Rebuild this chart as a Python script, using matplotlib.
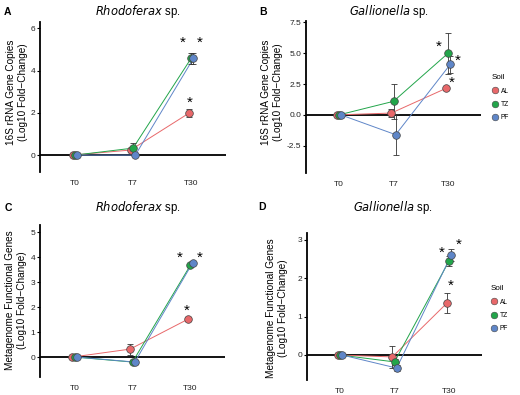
import matplotlib
matplotlib.use("Agg")
import matplotlib.pyplot as plt
from matplotlib.lines import Line2D

plt.rcParams["font.family"] = ["Liberation Sans", "DejaVu Sans"]

times = ["T0", "T7", "T30"]
soils = ["AL", "TZ", "PF"]
colors = {"AL": "#E8686A", "TZ": "#22A54A", "PF": "#5F86C8"}
dodge = {"AL": -0.04, "TZ": 0.0, "PF": 0.04}

# panel A: 16S, Rhodoferax
a_al = [0, 0.24, 1.98]
a_tz = [0, 0.33, 4.58]
a_pf = [0, 0.0, 4.58]
a_al_err = [0.03, 0.1, 0.2]
a_tz_err = [0.03, 0.24, 0.25]
a_pf_err = [0.03, 0.03, 0.25]

# panel B: 16S, Gallionella
b_al = [0, 0.15, 2.15]
b_tz = [0, 1.1, 5.0]
b_pf = [0, -1.6, 4.1]
b_al_err = [0.05, 0.35, 0.1]
b_tz_err = [0.05, 1.4, 1.65]
b_pf_err = [0.05, 1.65, 0.7]

# panel C: metagenome, Rhodoferax
c_al = [0, 0.32, 1.52]
c_tz = [0, -0.2, 3.68]
c_pf = [0, -0.2, 3.78]
c_al_err = [0.02, 0.22, 0.08]
c_tz_err = [0.02, 0.08, 0.05]
c_pf_err = [0.02, 0.08, 0.05]

# panel D: metagenome, Gallionella
d_al = [0, -0.05, 1.35]
d_tz = [0, -0.18, 2.45]
d_pf = [0, -0.34, 2.6]
d_al_err = [0.02, 0.28, 0.26]
d_tz_err = [0.02, 0.08, 0.13]
d_pf_err = [0.02, 0.08, 0.15]

# significance stars (x position, y value)
a_stars = [(1.85, 5.3), (2.15, 5.3), (1.97, 2.5)]
b_stars = [(1.83, 5.5), (2.17, 4.4), (2.06, 2.6)]
c_stars = [(1.81, 4.0), (2.16, 4.0), (1.93, 1.86)]
d_stars = [(1.87, 2.66), (2.18, 2.87), (2.02, 1.8)]

W, H = 520, 395
fig = plt.figure(figsize=(5.2, 3.95), dpi=100)


def px_axes(left, right, top, bottom):
    return fig.add_axes([left / W, 1 - bottom / H, (right - left) / W, (bottom - top) / H])


def draw_panel(ax, vals, errs, stars, ylim, yticks, yticklabels):
    for s in soils:
        x = [i + dodge[s] for i in range(len(times))]
        ax.plot(x, vals[s], color=colors[s], lw=0.7, zorder=2)
        ax.errorbar(x, vals[s], yerr=errs[s], fmt="none", ecolor="#333333",
                    elinewidth=0.6, capsize=2, capthick=0.6, zorder=3)
    for s in soils:
        x = [i + dodge[s] for i in range(len(times))]
        ax.plot(x, vals[s], "o", ms=5.5, mfc=colors[s], mec="#444444",
                mew=0.5, ls="none", zorder=4)
    ax.axhline(0, color="black", lw=1.3, zorder=1)
    for sx, sy in stars:
        ax.text(sx, sy, "*", ha="center", va="center", fontsize=11, color="black")
    ax.set_xlim(-0.6, 2.6)
    ax.set_ylim(*ylim)
    ax.set_xticks(range(len(times)))
    ax.set_xticklabels(times, fontsize=6, color="#222222")
    ax.set_yticks(yticks)
    ax.set_yticklabels(yticklabels, fontsize=6, color="#222222")
    ax.tick_params(axis="x", length=0, pad=6)
    ax.tick_params(axis="y", length=2, width=0.8, pad=1.5)
    for side in ["top", "right", "bottom"]:
        ax.spines[side].set_visible(False)
    ax.spines["left"].set_linewidth(1.3)
    ax.patch.set_alpha(0)


def add_legend(ax, x, y):
    handles = [Line2D([], [], marker="o", ls="none", ms=4.8, mfc=colors[s],
                      mec="#444444", mew=0.4) for s in soils]
    leg = ax.legend(handles, soils, title="Soil", loc="upper left",
                    bbox_to_anchor=(x / W, 1 - y / H), bbox_transform=fig.transFigure,
                    frameon=False, fontsize=4.8, title_fontsize=5.8,
                    handletextpad=0.2, labelspacing=0.95, borderpad=0, handlelength=1.2)
    leg._legend_box.align = "left"


ax_a = px_axes(40, 226, 22, 172)
draw_panel(ax_a, {"AL": a_al, "TZ": a_tz, "PF": a_pf},
           {"AL": a_al_err, "TZ": a_tz_err, "PF": a_pf_err},
           a_stars, (-0.8, 6.3), [0, 2, 4, 6], ["0", "2", "4", "6"])

ax_b = px_axes(306, 481, 21, 173)
draw_panel(ax_b, {"AL": b_al, "TZ": b_tz, "PF": b_pf},
           {"AL": b_al_err, "TZ": b_tz_err, "PF": b_pf_err},
           b_stars, (-4.7, 7.6), [-2.5, 0, 2.5, 5, 7.5],
           ["-2.5", "0.0", "2.5", "5.0", "7.5"])
add_legend(ax_b, 488, 71)

ax_c = px_axes(40, 225, 225, 377)
draw_panel(ax_c, {"AL": c_al, "TZ": c_tz, "PF": c_pf},
           {"AL": c_al_err, "TZ": c_tz_err, "PF": c_pf_err},
           c_stars, (-0.8, 5.3), [0, 1, 2, 3, 4, 5], ["0", "1", "2", "3", "4", "5"])

ax_d = px_axes(307, 482, 233, 380)
draw_panel(ax_d, {"AL": d_al, "TZ": d_tz, "PF": d_pf},
           {"AL": d_al_err, "TZ": d_tz_err, "PF": d_pf_err},
           d_stars, (-0.65, 3.17), [0, 1, 2, 3], ["0", "1", "2", "3"])
add_legend(ax_d, 487, 282)

# titles, panel letters and y labels
titles = [(138, 12, "Rhodoferax"), (389, 12, "Gallionella"),
          (138, 208, "Rhodoferax"), (393, 208, "Gallionella")]
for tx, ty, name in titles:
    fig.text(tx / W, 1 - ty / H, r"$\it{" + name + r"}$ sp.", ha="center", va="center",
             fontsize=8.3)

for lx, ly, letter in [(7, 12, "A"), (263, 12, "B"), (8, 208, "C"), (262, 207, "D")]:
    fig.text(lx / W, 1 - ly / H, letter, ha="center", va="center", fontsize=7.5,
             fontweight="bold")

ylab_16s = "16S rRNA Gene Copies\n(Log10 Fold\u2212Change)"
ylab_meta = "Metagenome Functional Genes\n(Log10 Fold\u2212Change)"
for lx, ly, lab in [(17, 92, ylab_16s), (272, 92, ylab_16s),
                    (16, 300, ylab_meta), (277, 308, ylab_meta)]:
    fig.text(lx / W, 1 - ly / H, lab, ha="center", va="center", rotation=90,
             fontsize=7.2, linespacing=1.15)

fig.savefig("out.png", dpi=100)
